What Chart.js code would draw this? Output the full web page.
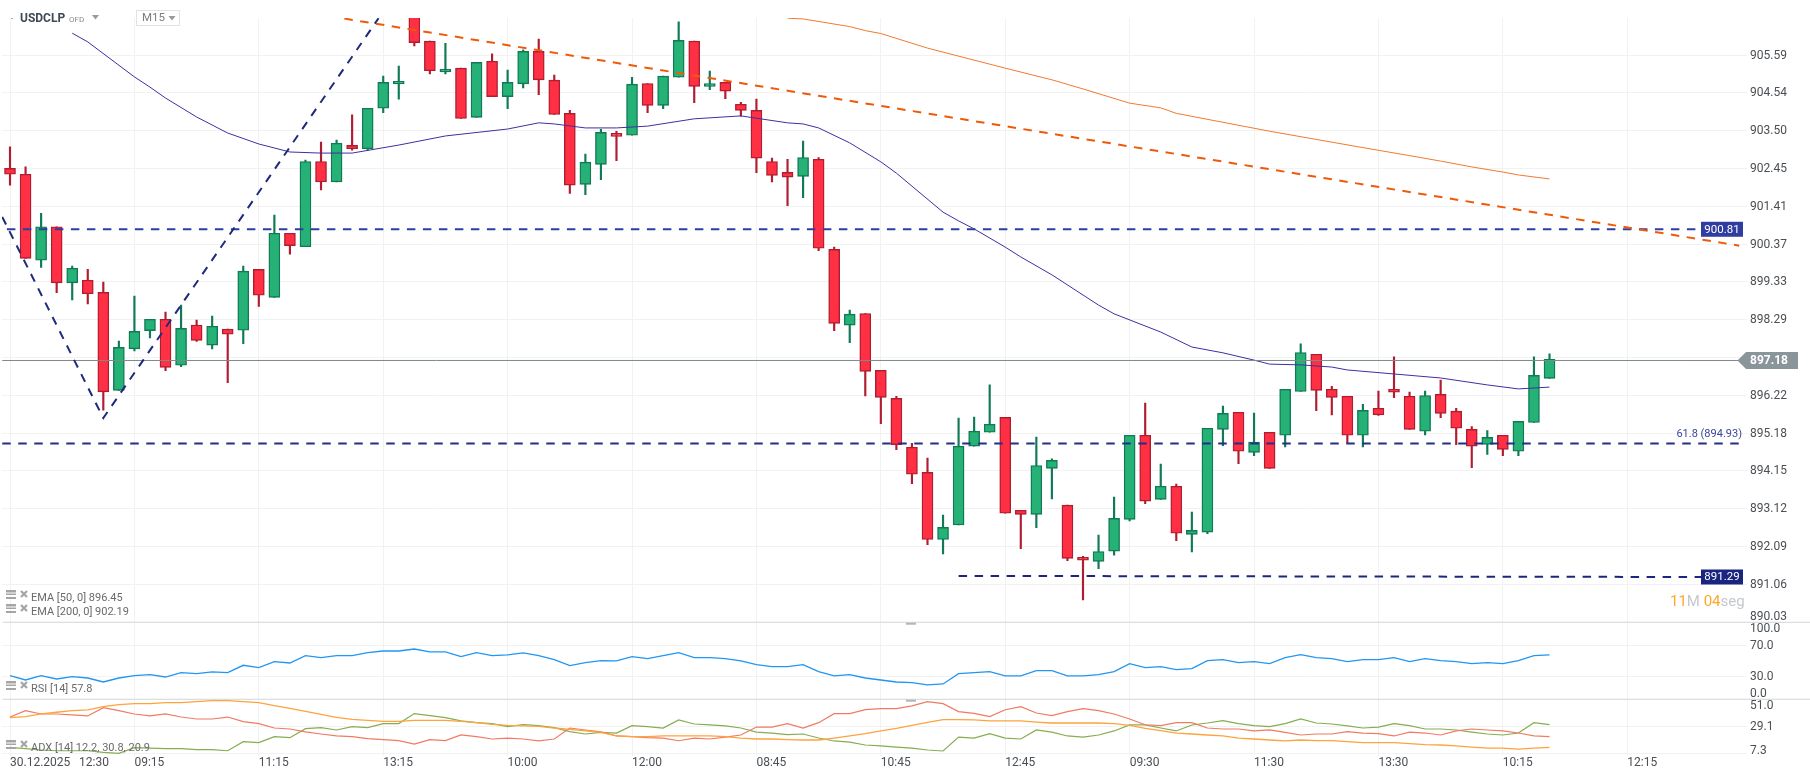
<!DOCTYPE html>
<html><head><meta charset="utf-8">
<style>html,body{margin:0;padding:0;background:#fff;overflow:hidden}canvas{display:block}</style>
<script src="https://cdn.jsdelivr.net/npm/chart.js@4"></script>
</head><body><canvas id="c" width="1810" height="779"></canvas>
<script>
const opens=[902.48,902.32,899.96,900.88,899.34,899.41,899.08,896.39,897.53,898.03,898.34,897.08,898.18,897.63,898.07,898.04,899.71,898.94,900.70,900.33,902.67,902.11,903.11,903.02,904.13,904.80,906.72,905.97,905.13,905.23,903.88,905.42,904.45,904.80,905.69,904.90,903.99,902.04,902.59,903.44,903.39,904.81,904.21,904.98,905.97,904.73,904.84,904.24,904.07,902.67,902.37,902.26,902.73,900.26,898.18,898.50,896.94,896.17,894.83,894.14,892.30,892.70,894.86,895.24,895.65,893.10,892.99,894.25,893.24,891.81,891.70,891.98,892.85,895.16,893.40,893.76,892.44,892.50,895.32,895.79,894.69,895.24,895.16,896.36,897.38,896.42,896.23,895.16,895.90,896.42,896.23,895.27,896.28,895.82,895.32,894.91,895.16,894.72,895.51,896.72];
const highs=[903.07,902.52,901.25,900.88,899.80,899.71,899.36,897.74,898.98,898.34,898.54,898.73,898.32,898.43,898.07,899.80,899.71,901.20,900.70,902.71,903.20,903.26,903.95,904.13,905.01,905.29,906.72,905.97,905.91,905.23,905.39,905.62,905.18,905.73,906.03,905.04,904.07,902.87,903.55,903.50,904.98,904.81,905.01,906.50,905.97,905.15,904.84,904.29,904.38,902.76,902.73,903.23,902.78,900.32,898.59,898.50,896.94,896.23,894.94,894.53,892.97,895.63,895.66,896.54,895.65,893.10,895.11,894.51,893.24,891.84,892.42,893.46,895.16,896.04,894.37,893.82,893.05,895.35,895.96,895.79,895.77,895.24,896.42,897.67,897.38,896.50,896.23,896.01,896.37,897.31,896.34,896.37,896.67,895.90,895.40,895.29,895.16,895.54,897.31,897.39];
const lows=[902.02,900.01,899.76,899.07,898.87,898.76,895.85,896.39,897.47,897.83,896.93,897.04,897.73,897.53,896.60,897.67,898.69,898.94,900.13,900.33,901.89,902.11,902.98,902.97,904.01,904.38,905.84,905.07,905.07,903.85,903.88,904.45,904.12,904.69,904.50,903.96,901.79,901.76,902.17,902.69,903.39,904.01,904.12,904.98,904.28,904.64,904.39,903.91,902.36,902.11,901.46,901.68,900.22,898.03,897.70,896.24,895.48,894.76,893.83,892.16,891.90,892.70,894.86,895.24,893.02,892.05,892.62,893.41,891.72,890.64,891.50,891.87,892.81,893.28,893.40,892.27,891.96,892.46,894.87,894.38,894.60,894.25,894.84,896.36,895.83,895.72,894.95,894.84,895.70,896.19,895.32,895.17,895.64,894.90,894.27,894.63,894.60,894.60,895.51,896.72];
const closes=[902.32,900.01,900.88,899.34,899.74,899.04,896.35,897.57,898.01,898.34,897.02,898.09,897.76,898.15,897.93,899.66,899.00,900.70,900.36,902.67,902.11,903.17,903.02,904.13,904.84,904.87,905.93,905.16,905.20,903.85,905.39,904.45,904.84,905.69,904.91,903.96,902.02,902.65,903.47,903.36,904.79,904.21,905.01,905.99,904.73,904.81,904.60,904.07,902.76,902.29,902.24,902.78,900.29,898.23,898.48,896.91,896.20,894.90,894.09,892.30,892.63,894.86,895.27,895.46,893.02,892.99,894.33,894.47,891.78,891.73,891.97,892.88,895.16,893.35,893.76,892.47,892.55,895.35,895.76,894.72,894.97,894.25,896.42,897.43,896.39,896.20,895.16,895.84,895.72,896.34,895.32,896.25,895.76,895.35,894.86,895.10,894.77,895.54,896.80,897.24];

const ema50Idx=[4,5,8,9,10,12,14,16,18,20,22,25,28,32,34,35,37,39,41,44,47,50,51,52,54,56,57,60,61,62,64,65,67,70,71,74,76,78,80,81,83,85,86,89,92,95,97,99];
const ema50Val=[906.19,905.95,904.99,904.71,904.41,903.89,903.45,903.15,902.93,902.90,902.90,903.12,903.37,903.56,903.73,903.70,903.59,903.59,903.64,903.84,903.92,903.73,903.70,903.59,903.18,902.66,902.35,901.28,901.04,900.82,900.32,900.05,899.56,898.73,898.49,897.99,897.58,897.42,897.22,897.11,897.09,897.03,896.95,896.84,896.73,896.54,896.43,896.48];
const ema200Idx=[50,51,54,55,56,59,61,64,67,69,72,74,75,81,87,90,92,94,96,97,99];
const ema200Val=[906.60,906.58,906.37,906.26,906.18,905.78,905.56,905.23,904.91,904.66,904.27,904.14,903.99,903.50,903.05,902.83,902.68,902.52,902.38,902.30,902.19];

const rsi=[30.8,25.1,30.8,26.4,29.5,27.7,22.5,27.7,30.8,32.1,29.0,34.7,33.4,35.6,34.7,44.3,41.2,49.1,47.3,56.9,54.3,56.9,56.9,60.8,63.0,63.0,65.6,61.7,61.7,55.6,60.8,56.9,57.8,60.4,56.9,51.7,43.9,47.8,50.4,50.0,55.6,53.0,57.0,60.9,54.3,54.3,53.0,50.0,45.2,42.6,42.6,45.2,36.0,30.4,32.1,27.7,25.1,22.5,21.6,18.6,19.9,33.4,34.7,36.0,30.4,30.4,37.3,37.3,30.4,30.4,32.1,36.0,46.5,41.3,42.6,38.6,39.9,50.4,51.7,47.8,49.1,46.5,54.3,58.2,54.3,53.0,49.1,51.7,51.7,54.3,49.1,53.0,50.4,49.1,46.5,47.8,46.5,50.4,57.0,57.8];
const adxMain=[36.5,37.3,39.5,40.9,42.2,42.8,45.5,47.2,48.0,48.0,48.8,48.8,49.6,50.4,50.4,49.6,48.8,46.3,44.1,41.7,39.2,36.8,35.1,34.3,33.5,33.5,34.3,34.3,34.3,33.5,32.4,31.0,30.2,29.7,29.4,28.0,26.9,25.6,24.5,21.5,20.9,20.9,21.5,21.5,21.5,21.5,20.9,19.8,19.0,19.0,18.5,18.2,18.2,19.8,21.5,23.4,25.6,27.7,30.2,32.7,34.8,34.8,34.6,33.8,33.8,33.8,32.9,32.1,32.1,32.1,32.1,31.6,30.2,27.7,25.8,23.9,23.1,22.3,21.5,19.8,19.0,18.2,17.4,18.2,17.6,17.6,16.8,16.0,16.0,16.0,15.2,14.4,14.1,13.3,12.4,11.6,11.6,10.8,11.6,12.2];
const adxMinus=[37.0,42.2,39.5,39.5,38.7,37.9,44.7,42.2,39.5,37.9,39.5,37.0,35.4,35.4,37.0,33.2,31.6,28.0,27.2,24.8,23.1,21.5,20.9,19.3,18.5,17.7,14.9,18.5,17.7,22.3,20.9,19.0,19.8,19.0,17.4,19.0,28.0,26.4,24.8,21.5,20.9,20.1,19.8,17.6,19.8,19.0,20.6,22.3,28.8,28.8,31.6,28.0,32.4,39.8,39.8,43.0,43.9,43.9,46.1,49.6,48.0,41.4,40.0,37.3,43.0,45.5,40.3,38.1,41.4,43.9,42.2,39.5,35.4,30.7,29.9,32.4,32.4,28.0,27.2,27.2,25.6,26.4,24.5,22.3,23.1,23.1,25.0,23.9,23.4,21.5,24.7,23.9,22.3,25.6,27.2,26.4,25.6,23.9,21.5,20.9];
const adxPlus=[12.2,11.1,10.0,9.4,9.4,9.4,8.1,7.3,11.9,11.6,11.1,11.1,10.3,10.3,9.4,16.8,16.0,20.9,20.1,27.5,28.3,26.4,29.1,28.3,31.6,31.6,39.8,38.1,36.5,33.8,32.4,31.6,29.1,30.8,30.0,28.3,25.0,23.1,24.5,23.9,29.9,29.1,28.0,34.6,31.3,30.5,29.7,28.0,24.7,23.9,22.6,23.1,19.8,17.4,16.5,14.1,13.3,12.4,11.6,10.0,9.2,20.6,19.8,23.4,19.8,19.0,26.4,24.7,21.5,20.6,22.3,25.6,30.5,30.5,28.0,25.6,30.5,32.1,34.0,31.6,29.9,29.1,31.6,35.4,32.1,31.3,29.7,28.0,28.8,31.6,29.9,27.2,27.2,26.4,24.7,23.1,22.3,23.9,32.4,30.8];

const waveIdx=[-0.5,6,23.7];
const waveVal=[901.15,895.63,906.6];
const trendIdx=[21.5,111.2];
const trendVal=[906.59,900.36];
const levelTopIdx=[-0.2,108.8], levelTopVal=[900.81,900.81];
const levelFibIdx=[-0.5,111.2], levelFibVal=[894.93,894.93];
const levelLowIdx=[61,108.8], levelLowVal=[891.30,891.27];
const lastIdx=[-0.5,111.2], lastVal=[897.21,897.21];

const mainTickLabels=['890.03','891.06','892.09','893.12','894.15','895.18','896.22','897.18','898.29','899.33','900.37','901.41','902.45','903.50','904.54','905.59'];
const rsiTicks=[0,30,70,100], rsiTickLabels=['0.0','30.0','70.0','100.0'];
const adxTicks=[7.3,29.1,51], adxTickLabels=['7.3','29.1','51.0'];
const xTickIdx=[0,4.44,8,16,24,32,40,48,56,64,72,80,88,96,104];
const xTickLabels=['30.12.2025','12:30','09:15','11:15','13:15','10:00','12:00','08:45','10:45','12:45','09:30','11:30','13:30','10:15','12:15'];

const UP='#26b276',UPB='#0f7a55',DN='#ff3044',DNB='#b01c30',GRID='#f2f2f2',FONT='Roboto, sans-serif';
const isUp=opens.map((o,i)=>closes[i]>=o);
const pts=(xs,ys)=>xs.map((x,i)=>({x,y:ys[i]}));
const series=ys=>ys.map((y,i)=>({x:i,y}));
const line=(data,color,width,yAxisID,dash,order)=>({type:'line',data,borderColor:color,borderWidth:width,borderDash:dash||[],pointRadius:0,tension:0,fill:false,yAxisID,xAxisID:'x',order:order||2,parsing:true,clip:true});
const DASH=[8.5,7.5];

function panelText(ctx,txt,x,y,font,color,align){ctx.font=font;ctx.fillStyle=color;ctx.textAlign=align||'left';ctx.textBaseline='middle';ctx.fillText(txt,x,y);}
function tri(ctx,x,y,w,h,color){ctx.fillStyle=color;ctx.beginPath();ctx.moveTo(x,y);ctx.lineTo(x+w,y);ctx.lineTo(x+w/2,y+h);ctx.closePath();ctx.fill();}
function legendRow(ctx,txt,y){
  ctx.fillStyle='#a5a5a5';
  ctx.fillRect(6,y-7,10,2.5);ctx.fillRect(6,y-3.5,10,1.5);ctx.fillRect(6,y,10,2);
  ctx.strokeStyle='#a5a5a5';ctx.lineWidth=2.2;ctx.beginPath();ctx.moveTo(21,y-6);ctx.lineTo(27,y);ctx.moveTo(27,y-6);ctx.lineTo(21,y);ctx.stroke();
  panelText(ctx,txt,31,y+1,'11px '+FONT,'#6a6a6a');
}
const overlay={id:'overlay',afterDraw(chart){
  const ctx=chart.ctx,S=chart.scales,area=chart.chartArea;ctx.save();
  // pane separators and handles
  ctx.fillStyle='#dedede';ctx.fillRect(3,S.yMain.bottom-0.5,1807,1.3);ctx.fillRect(3,S.yRsi.bottom-0.5,1807,1.3);
  ctx.fillStyle='#b5b5b5';ctx.fillRect(906,S.yMain.bottom+0.5,10,2);ctx.fillRect(906,S.yRsi.bottom+0.5,10,2);
  // right-hand axis labels
  for(const id of ['yMain','yRsi','yAdx']){const s=S[id];
    for(const t of s.ticks){const p=Math.min(s.bottom-6,Math.max(s.top+6,s.getPixelForValue(t.value)));
      if(id==='yMain'&&t.label==='897.18')continue;
      panelText(ctx,t.label,area.right+3,p+0.5,'12px '+FONT,'#4a4f54');}
  }
  const R=area.right,yOf=v=>S.yMain.getPixelForValue(v);
  // level tags
  const tag=(v,txt,col)=>{const y=yOf(v);ctx.fillStyle=col;ctx.fillRect(R-46,y-7.5,42,15);panelText(ctx,txt,R-25,y+0.5,'11.5px '+FONT,'#fff','center');};
  tag(levelTopVal[0],'900.81','#2f3da0');tag(levelLowVal[1],'891.29','#1a2580');
  panelText(ctx,'61.8 (894.93)',R-5,yOf(levelFibVal[0])-9.5,'11px '+FONT,'#3d479c','right');
  // last-price pill
  const py=yOf(lastVal[0]);ctx.fillStyle='#8a9599';ctx.beginPath();ctx.moveTo(R-9.5,py);ctx.lineTo(R-1,py-8.5);ctx.lineTo(R+51,py-8.5);ctx.lineTo(R+51,py+8.5);ctx.lineTo(R-1,py+8.5);ctx.closePath();ctx.fill();
  panelText(ctx,'897.18',R+3,py+0.5,'bold 12px '+FONT,'#fff');
  // countdown
  let tx=1670;const f='15px '+FONT;for(const [t,c] of [['11','#ffa726'],['M ','#c4c8cc'],['04','#ffa726'],['seg','#c4c8cc']]){ctx.font=f;panelText(ctx,t,tx,602,f,c);tx+=ctx.measureText(t).width;}
  // header
  panelText(ctx,'USDCLP',20,18.5,'bold 12px '+FONT,'#3f4a55');
  panelText(ctx,'OFD',69,19.5,'8px '+FONT,'#8a8a8a');
  tri(ctx,92,15,7,4.5,'#9a9a9a');
  ctx.fillStyle='#aaa';ctx.fillRect(11,18,2,1);
  ctx.strokeStyle='#e3e3e3';ctx.lineWidth=1;ctx.strokeRect(136.5,10.5,43,15);
  panelText(ctx,'M15',142,18.5,'11.5px '+FONT,'#7d7d7d');
  tri(ctx,168.5,16,7,4.5,'#9a9a9a');
  // indicator legends
  legendRow(ctx,'EMA [50, 0] 896.45',597);
  legendRow(ctx,'EMA [200, 0] 902.19',611);
  legendRow(ctx,'RSI [14] 57.8',688);
  legendRow(ctx,'ADX [14] 12.2, 30.8, 20.9',747);
  ctx.restore();
}};
const yScale=(weight,min,max,tickVals,tickLabels)=>({type:'linear',position:'right',stack:'panes',stackWeight:weight,min,max,
  afterBuildTicks(s){s.ticks=tickVals.map(value=>({value}));},
  afterFit(s){s.width=63;},
  ticks:{display:false,callback:(v,i)=>tickLabels[i]},
  grid:{color:GRID,lineWidth:1,drawTicks:false},border:{display:false}});
const mainLo=890.03,mainHi=905.59,mainPositions=mainTickLabels.map((_,i)=>mainLo+i*(mainHi-mainLo)/(mainTickLabels.length-1));

new Chart(document.getElementById('c'),{
  type:'bar',
  plugins:[overlay],
  data:{datasets:[
    line(pts(trendIdx,trendVal),'#ee5a0a',2,'yMain',DASH,1),
    line(pts(waveIdx,waveVal),'#1f2a7c',2,'yMain',DASH,1),
    line(pts(levelTopIdx,levelTopVal),'#2f3da0',2,'yMain',DASH,1),
    line(pts(levelFibIdx,levelFibVal),'#232e8a',2,'yMain',DASH,1),
    line(pts(levelLowIdx,levelLowVal),'#1c2680',2,'yMain',DASH,1),
    line(pts(lastIdx,lastVal),'#7d898c',1,'yMain',[],1),
    line(pts(ema50Idx,ema50Val),'#3f2fa0',1,'yMain',[],2),
    line(pts(ema200Idx,ema200Val),'#f07a30',1,'yMain',[],2),
    line(series(rsi),'#2196f3',1.3,'yRsi',[],2),
    line(series(adxMain),'#ffa33d',1.3,'yAdx',[],3),
    line(series(adxMinus),'#f07b62',1.2,'yAdx',[],3),
    line(series(adxPlus),'#86ad50',1.2,'yAdx',[],3),
    {type:'bar',yAxisID:'yMain',xAxisID:'x',order:10,grouped:false,barThickness:11,borderWidth:1.4,borderSkipped:false,
     data:opens.map((o,i)=>({x:i,y:[o,closes[i]]})),
     backgroundColor:isUp.map(u=>u?UP:DN),borderColor:isUp.map(u=>u?UPB:DNB)},
    {type:'bar',yAxisID:'yMain',xAxisID:'x',order:11,grouped:false,barThickness:1.5,borderWidth:0,
     data:lows.map((l,i)=>({x:i,y:[l,highs[i]]})),
     backgroundColor:isUp.map(u=>u?UPB:DNB)}
  ]},
  options:{responsive:false,animation:false,devicePixelRatio:1,
    layout:{padding:{top:18,left:2,right:0,bottom:0}},
    plugins:{legend:{display:false},tooltip:{enabled:false}},
    scales:{
      x:{type:'linear',offset:false,min:-0.515,max:111.7,position:'bottom',
        afterBuildTicks(s){s.ticks=xTickIdx.map(value=>({value}));},
        afterFit(s){s.height=23;},
        ticks:{autoSkip:false,maxRotation:0,align:'start',padding:0,color:'#4a4f54',font:{family:FONT,size:12},callback:(v,i)=>xTickLabels[i]},
        grid:{offset:false,drawTicks:false,color:c=>(c.tick&&c.tick.value%8===0)?GRID:'rgba(0,0,0,0)'},border:{display:false}},
      yMain:Object.assign(yScale(604.2,mainLo,906.606,mainPositions,mainTickLabels),{weight:1}),
      yRsi:Object.assign(yScale(77,0,100.6,rsiTicks,rsiTickLabels),{weight:2}),
      yAdx:Object.assign(yScale(56.8,5.09,51.6,adxTicks,adxTickLabels),{weight:3})
    }
  }
});
</script></body></html>
